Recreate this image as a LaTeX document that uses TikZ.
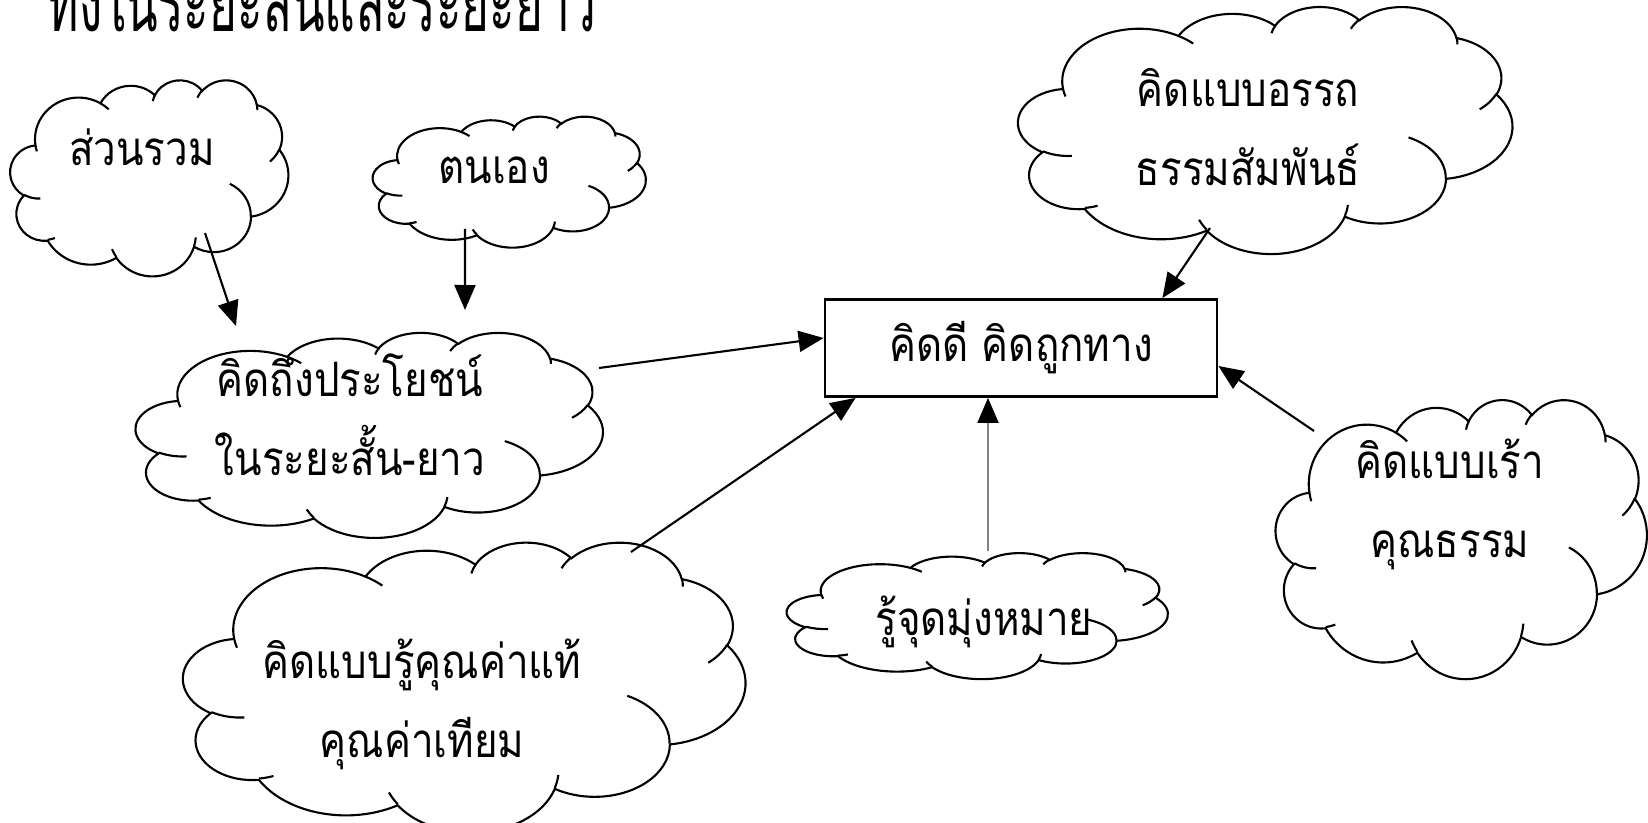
\documentclass[tikz,border=0pt]{standalone}
\usepackage{fontspec}
\newfontfamily\thaifont[Script=Thai,FakeStretch=0.85]{Loma}
\newfontfamily\thaititle[Script=Thai,FakeStretch=0.59]{Loma}
\usetikzlibrary{arrows.meta,positioning}

\tikzset{
  blob/.style={rectangle, inner sep=0pt},
  words/.style={font=\thaifont\fontsize{13.5}{22.5}\selectfont,
    align=center, inner sep=0pt},
  arr/.style={line width=0.6pt, -{Triangle[length=0.25cm,width=0.21cm]}},
}

% cloud outline drawn over the box of node #1 (width #2, height #3)
\newcommand{\drawcloud}[3]{%
  \begin{scope}[shift={(#1.south west)}, xscale=#2, yscale=#3, line width=0.6pt]
    \draw (0.0903,0.6674)
      arc[start angle=-172.25, delta angle=-128.11, x radius=0.15632, y radius=0.21273]
      arc[start angle=152.02, delta angle=-106.57, x radius=0.12345, y radius=0.16822]
      arc[start angle=153.49, delta angle=-116.16, x radius=0.10104, y radius=0.13762]
      arc[start angle=139.71, delta angle=-129.49, x radius=0.11243, y radius=0.15266]
      arc[start angle=74.77, delta angle=-97.98, x radius=0.12345, y radius=0.16836]
      arc[start angle=37.53, delta angle=-119.39, x radius=0.15683, y radius=0.21343]
      arc[start angle=-0.46, delta angle=-121.52, x radius=0.13391, y radius=0.18211]
      arc[start angle=-16.85, delta angle=-129.38, x radius=0.15630, y radius=0.21331]
      arc[start angle=-58.98, delta angle=-91.21, x radius=0.17870, y radius=0.24405]
      arc[start angle=-83.31, delta angle=-139.81, x radius=0.10093, y radius=0.13699]
      arc[start angle=-120.35, delta angle=-143.76, x radius=0.10058, y radius=0.13762]
      -- cycle;
    \draw (0.10863,0.39405) arc[start angle=-85.54, delta angle=-34.81, x radius=0.10058, y radius=0.13762];
    \draw (0.16037,0.19215) arc[start angle=-68.24, delta angle=-15.07, x radius=0.10093, y radius=0.13699];
    \draw (0.38144,0.09514) arc[start angle=-146.23, delta angle=-12.24, x radius=0.15630, y radius=0.21331];
    \draw (0.66729,0.19558) arc[start angle=-4.74, delta angle=-12.11, x radius=0.15630, y radius=0.21331];
    \draw (0.79002,0.46866) arc[start angle=64.02, delta angle=-64.48, x radius=0.13391, y radius=0.18211];
    \draw (0.96755,0.64458) arc[start angle=-23.21, delta angle=-26.43, x radius=0.12345, y radius=0.16836];
    \draw (0.88713,0.87440) arc[start angle=10.22, delta angle=-11.05, x radius=0.11243, y radius=0.15266];
    \draw (0.67310,0.90852) arc[start angle=156.30, delta angle=-16.59, x radius=0.11243, y radius=0.15266];
    \draw (0.51252,0.89074) arc[start angle=167.72, delta angle=-14.23, x radius=0.10104, y radius=0.13762];
    \draw (0.32407,0.87981) arc[start angle=59.64, delta angle=-13.91, x radius=0.15632, y radius=0.21273];
    \draw (0.09553,0.63451) arc[start angle=-163.19, delta angle=-9.06, x radius=0.15632, y radius=0.21273];
  \end{scope}}

\begin{document}
\begin{tikzpicture}
  \clip (0,0) rectangle (16.48,8.22);
  % title line, cut off at the top
  \node[anchor=base west, inner sep=0pt,
    font=\thaititle\fontsize{23}{26}\selectfont] (title) at (0.47,7.90)
    {ทั้งในระยะสั้นและระยะยาว};

  % clouds
  \node[blob, minimum width=2.78cm, minimum height=1.96cm] (sum) at (1.50,6.45) {};
  \node[blob, minimum width=2.73cm, minimum height=1.31cm] (self) at (5.10,6.41) {};
  \node[blob, minimum width=4.67cm, minimum height=2.05cm] (benefit) at (3.70,3.88) {};
  \node[blob, minimum width=5.62cm, minimum height=2.90cm] (value) at (4.65,1.36) {};
  \node[blob, minimum width=4.94cm, minimum height=2.47cm] (artha) at (12.66,6.93) {};
  \node[blob, minimum width=3.81cm, minimum height=1.26cm] (goal) at (9.78,2.07) {};
  \node[blob, minimum width=3.71cm, minimum height=2.79cm] (moral) at (14.62,2.84) {};
  \drawcloud{sum}{2.78}{1.96}
  \drawcloud{self}{2.73}{1.31}
  \drawcloud{benefit}{4.67}{2.05}
  \drawcloud{value}{5.62}{2.90}
  \drawcloud{artha}{4.94}{2.47}
  \drawcloud{goal}{3.81}{1.26}
  \drawcloud{moral}{3.71}{2.79}

  % texts in the clouds
  \node[words] (sumtxt) at (1.42,6.75) {ส่วนรวม};
  \node[words] (selftxt) at (4.94,6.52) {ตนเอง};
  \node[words] (benefittxt) at (3.50,4.07) {คิดถึงประโยชน์\\ในระยะสั้น-ยาว};
  \node[words] (valuetxt) at (4.22,1.18) {คิดแบบรู้คุณค่าแท้\\คุณค่าเทียม};
  \node[words] (arthatxt) at (12.48,6.95) {คิดแบบอรรถ\\ธรรมสัมพันธ์};
  \node[words] (goaltxt) at (9.84,2.00) {รู้จุดมุ่งหมาย};
  \node[words] (moraltxt) at (14.50,3.18) {คิดแบบเร้า\\คุณธรรม};

  % centre box
  \node[draw, line width=0.8pt, minimum width=3.92cm, minimum height=0.97cm,
    words] (good) at (10.21,4.74) {คิดดี คิดถูกทาง};

  % arrows
  \draw[arr] ([shift={(0.55,-0.56)}]sum.center) -- ([shift={(-1.34,1.08)}]benefit.center);
  \draw[arr] ([shift={(-0.45,-0.48)}]self.center) -- ([shift={(0.95,1.24)}]benefit.center);
  \draw[arr] ([shift={(2.29,0.66)}]benefit.center) -- ([yshift=0.1cm]good.west);
  \draw[arr] ([shift={(1.66,1.34)}]value.center) -- ([xshift=0.32cm]good.south west);
  \draw[arr, gray, -{Triangle[length=0.25cm,width=0.21cm,color=black]}]
    ([xshift=0.1cm]goal.north) -- ([xshift=0.1cm]goal.north |- good.south);
  \draw[arr] ([shift={(-0.56,-0.99)}]artha.center) -- ([xshift=-0.56cm]good.north east);
  \draw[arr] ([shift={(-1.48,1.07)}]moral.center) -- ([yshift=-0.18cm]good.east);
\end{tikzpicture}
\end{document}
